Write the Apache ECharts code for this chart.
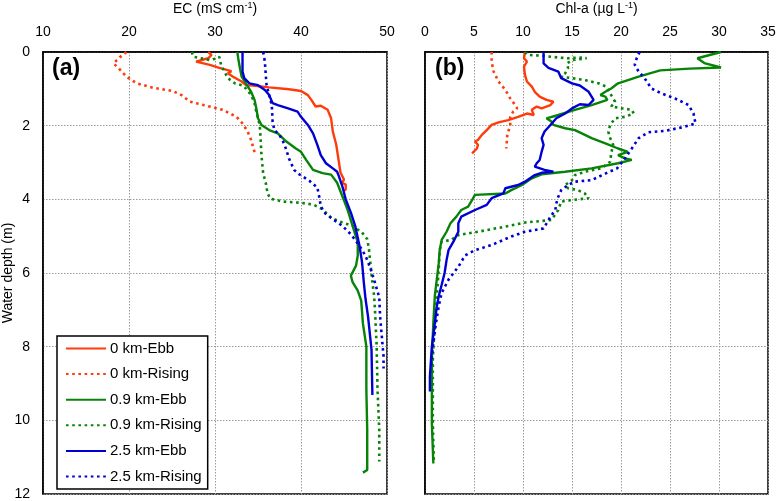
<!DOCTYPE html>
<html>
<head>
<meta charset="utf-8">
<script src="https://cdn.jsdelivr.net/npm/echarts@6/dist/echarts.min.js"></script>
<style>
html,body{margin:0;padding:0;background:#fff;}
#chart{width:776px;height:501px;}
</style>
</head>
<body>
<div id="chart"></div>
<script>
// ---- Data: [value, depth (m)] ----
const seriesNames = ['0 km-Ebb', '0 km-Rising', '0.9 km-Ebb', '0.9 km-Rising', '2.5 km-Ebb', '2.5 km-Rising'];
const ecTicks = [10, 20, 30, 40, 50];
const chlTicks = [0, 5, 10, 15, 20, 25, 30, 35];
const depthTicks = [0, 2, 4, 6, 8, 10, 12];

// Panel (a) EC (mS cm-1)
const ecEbb0 = [[29.2,0],[29.6,0.08],[29.2,0.17],[27.8,0.26],[29.4,0.35],[30.5,0.43],[31.9,0.52],[32.1,0.55],[31.5,0.58],[32.1,0.67],[33.1,0.8],[33.6,0.9],[34.4,0.91],[36.3,0.96],[38.6,1.01],[40.0,1.06],[40.8,1.17],[41.2,1.3],[41.7,1.48],[42.3,1.46],[43.1,1.57],[43.5,1.8],[43.7,2.16],[44.1,2.52],[44.4,2.98],[44.6,3.28],[45.0,3.46],[44.8,3.55],[45.2,3.6],[45.2,3.73],[45.0,3.77]];
const ecRising0 = [[19.7,0],[19.0,0.13],[18.2,0.31],[18.8,0.44],[19.7,0.67],[20.9,0.85],[22.8,0.97],[25.1,1.06],[26.1,1.17],[27.1,1.35],[29.0,1.46],[30.9,1.57],[32.5,1.76],[33.2,1.94],[33.8,2.16],[34.2,2.39],[34.6,2.72]];
const ecEbb09 = [[32.6,0],[32.7,0.17],[32.9,0.44],[33.1,0.67],[33.6,0.85],[34.2,1.08],[34.6,1.3],[34.8,1.53],[35.0,1.8],[35.4,1.98],[36.3,2.12],[37.3,2.21],[38.3,2.43],[39.4,2.62],[40.0,2.71],[40.6,2.93],[41.4,3.2],[42.5,3.29],[43.5,3.33],[44.2,3.55],[44.8,3.91],[45.4,4.27],[46.0,4.72],[46.6,5.17],[46.6,5.53],[46.4,5.8],[45.8,6.07],[46.0,6.25],[46.6,6.48],[47.0,6.75],[47.2,7.37],[47.6,8.0],[47.6,9.18],[47.7,10.26],[47.7,11.35],[47.2,11.42]];
const ecRising09 = [[27.3,0],[27.5,0.13],[28.4,0.17],[29.4,0.22],[30.2,0.17],[30.5,0.13],[30.7,0.35],[31.1,0.53],[31.5,0.71],[32.3,0.85],[33.1,0.9],[33.6,0.99],[34.2,1.17],[34.6,1.39],[34.8,1.62],[35.2,1.98],[35.3,2.34],[35.4,2.8],[35.6,3.29],[35.9,3.55],[36.1,3.82],[36.4,3.98],[37.9,4.06],[39.8,4.09],[41.4,4.14],[42.5,4.27],[43.5,4.5],[44.8,4.63],[46.0,4.72],[47.1,4.9],[47.7,5.08],[47.9,5.35],[48.1,5.8],[48.3,6.25],[48.5,6.61],[48.6,7.0],[48.8,8.0],[48.9,9.18],[49.1,10.26],[49.1,11.12]];
const ecEbb25 = [[33.2,0],[33.2,0.26],[33.2,0.53],[33.4,0.71],[34.0,0.85],[35.0,0.9],[35.8,1.03],[36.3,1.17],[36.7,1.39],[37.3,1.44],[38.5,1.53],[39.6,1.62],[40.0,1.76],[40.8,1.98],[41.4,2.21],[41.9,2.52],[42.3,2.8],[42.9,3.02],[43.7,3.16],[44.2,3.25],[44.4,3.37],[44.8,3.64],[45.2,4.0],[45.8,4.36],[46.3,4.72],[46.8,5.26],[47.1,5.71],[47.3,6.25],[47.5,6.7],[47.8,7.19],[48.2,8.09],[48.3,9.31]];
const ecRising25 = [[35.6,0],[35.8,0.26],[35.9,0.62],[36.0,0.9],[36.3,1.17],[36.6,1.44],[36.7,1.89],[36.9,2.12],[37.5,2.25],[38.1,2.52],[38.6,2.89],[39.2,3.2],[39.8,3.32],[41.0,3.5],[41.9,3.68],[42.1,3.91],[42.3,4.18],[42.7,4.36],[43.7,4.54],[44.8,4.72],[45.8,4.95],[46.8,5.26],[47.5,5.53],[48.1,5.89],[48.7,6.34],[49.1,6.66],[49.2,7.19],[49.6,8.27],[49.6,8.59]];

// Panel (b) Chl-a (ug L-1)
const chlEbb0 = [[10.2,0],[10.1,0.17],[10.4,0.26],[10.1,0.4],[10.2,0.62],[10.4,0.8],[10.9,0.94],[11.2,1.08],[11.7,1.21],[12.4,1.3],[13.1,1.35],[12.8,1.44],[11.9,1.53],[11.4,1.48],[10.9,1.57],[11.1,1.71],[10.4,1.67],[9.5,1.76],[8.5,1.85],[7.5,1.91],[6.8,1.98],[6.3,2.12],[5.8,2.25],[5.4,2.39],[5.1,2.43],[5.4,2.52],[5.3,2.62],[4.8,2.75]];
const chlRising0 = [[6.8,0],[6.8,0.26],[7.0,0.53],[7.5,0.8],[8.2,1.03],[8.7,1.26],[9.2,1.44],[9.4,1.53],[9.0,1.62],[8.7,1.76],[8.7,1.98],[8.4,2.25],[8.3,2.62]];
const chlEbb09 = [[30.2,0],[30.0,0.05],[27.8,0.17],[28.5,0.3],[30.2,0.42],[27.0,0.45],[24.0,0.5],[21.8,0.67],[20.4,0.79],[19.7,0.85],[19.0,0.99],[18.4,1.08],[17.9,1.17],[18.4,1.21],[18.6,1.3],[17.0,1.44],[15.3,1.57],[13.6,1.71],[12.4,1.8],[12.9,1.89],[13.1,1.98],[14.3,2.07],[15.3,2.12],[16.0,2.21],[17.0,2.34],[18.4,2.48],[19.7,2.62],[20.7,2.71],[19.7,2.8],[20.4,2.89],[21.1,2.93],[19.7,3.02],[17.0,3.16],[14.3,3.25],[11.9,3.32],[10.9,3.43],[9.9,3.61],[8.8,3.75],[8.2,3.84],[5.1,3.88],[4.8,4.02],[4.4,4.2],[3.7,4.29],[3.2,4.47],[2.6,4.65],[2.2,4.88],[1.7,5.1],[1.5,5.38],[1.4,5.74],[1.2,6.18],[1.0,6.63],[0.85,7.37],[0.7,8.27],[0.7,9.18],[0.7,10.08],[0.85,11.17]];
const chlRising09 = [[10.2,0],[10.5,0.08],[11.9,0.1],[13.6,0.15],[14.6,0.17],[15.6,0.15],[16.5,0.17],[15.0,0.22],[14.5,0.31],[14.6,0.44],[14.3,0.58],[13.9,0.67],[15.0,0.71],[16.3,0.76],[17.7,0.85],[18.5,0.94],[19.0,1.17],[19.4,1.35],[19.0,1.48],[20.1,1.53],[21.1,1.57],[21.3,1.67],[20.4,1.76],[19.4,1.8],[18.9,1.98],[18.7,2.16],[18.9,2.34],[19.2,2.52],[19.0,2.75],[18.9,2.98],[18.0,3.16],[16.3,3.25],[15.6,3.32],[15.3,3.34],[15.0,3.48],[14.3,3.61],[14.6,3.7],[15.6,3.75],[16.3,3.84],[16.7,3.97],[15.0,4.02],[13.9,4.06],[13.6,4.29],[12.9,4.56],[10.2,4.63],[8.2,4.74],[5.4,4.88],[3.4,4.97],[2.7,5.1],[1.7,5.15],[1.5,5.38],[1.4,5.92],[1.2,6.63],[1.0,7.4],[0.8,8.3],[0.8,9.2],[0.8,10.1],[0.9,11.1]];
const chlEbb25 = [[12.1,0],[12.1,0.31],[12.6,0.43],[13.6,0.53],[13.9,0.71],[15.0,0.85],[15.8,0.91],[16.7,1.08],[17.0,1.21],[17.2,1.3],[16.7,1.44],[15.8,1.42],[15.0,1.53],[14.3,1.67],[13.4,1.8],[12.8,1.98],[12.2,2.16],[11.9,2.34],[12.1,2.52],[11.9,2.71],[11.7,2.93],[11.4,3.02],[11.2,3.11],[12.2,3.2],[13.1,3.25],[11.9,3.28],[11.2,3.34],[10.2,3.52],[9.5,3.61],[8.2,3.7],[8.0,3.84],[6.8,3.97],[6.3,4.15],[5.1,4.29],[3.7,4.47],[3.4,4.65],[3.4,4.88],[2.9,5.15],[2.4,5.38],[2.2,5.65],[2.0,6.0],[1.7,6.32],[1.4,6.63],[1.2,6.92],[1.0,7.37],[0.7,8.0],[0.5,8.81],[0.5,9.22]];
const chlRising25 = [[21.9,0],[21.6,0.17],[21.4,0.35],[21.8,0.53],[22.4,0.71],[23.1,0.99],[24.1,1.12],[25.5,1.26],[26.9,1.44],[27.4,1.67],[27.6,1.94],[26.5,2.03],[24.5,2.14],[22.8,2.18],[21.8,2.34],[21.1,2.62],[20.4,2.89],[19.6,3.16],[18.5,3.29],[17.0,3.48],[15.3,3.52],[14.6,3.61],[13.9,3.75],[13.6,3.93],[13.4,4.11],[13.3,4.29],[12.8,4.47],[12.1,4.79],[10.2,4.88],[8.8,5.01],[6.8,5.24],[5.1,5.38],[4.1,5.52],[3.4,5.83],[2.4,6.18],[1.7,6.54],[1.4,6.9],[1.1,7.4],[0.8,8.0],[0.6,8.6]];

const panelA = [ecEbb0, ecRising0, ecEbb09, ecRising09, ecEbb25, ecRising25];
const panelB = [chlEbb0, chlRising0, chlEbb09, chlRising09, chlEbb25, chlRising25];

// ---- Styles ----
const colors = ['#ff3b0a', '#ff3b0a', '#078407', '#078407', '#0000d4', '#0000d4'];
const dotted = [false, true, false, true, false, true];
const FONT = '"Liberation Sans", Arial, Helvetica, sans-serif';

function mkSeries(data, i, axisIdx) {
  return {
    name: seriesNames[i],
    type: 'line',
    xAxisIndex: axisIdx,
    yAxisIndex: axisIdx,
    data: data,
    symbol: 'none',
    smooth: false,
    z: 3,
    lineStyle: {
      color: colors[i],
      width: dotted[i] ? 2.6 : 2.4,
      type: dotted[i] ? [2.6, 3.6] : 'solid',
      cap: 'butt'
    },
    itemStyle: { color: colors[i] },
    emphasis: { disabled: true }
  };
}

const series = [];
panelA.forEach((d, i) => series.push(mkSeries(d, i, 0)));
panelB.forEach((d, i) => series.push(mkSeries(d, i, 1)));

const gridLine = { show: true, lineStyle: { color: '#9a9a9a', type: [1.5, 1.5], width: 1 } };

function xAx(gridIdx, min, max, interval, nameParts) {
  return {
    type: 'value', gridIndex: gridIdx, position: 'top', min: min, max: max, interval: interval,
    name: '{a|' + nameParts[0] + '}{s|' + nameParts[1] + '}{a|' + nameParts[2] + '}',
    nameLocation: 'middle', nameGap: 35,
    nameTextStyle: {
      color: '#000',
      rich: {
        a: { fontFamily: FONT, fontSize: 14, color: '#000', lineHeight: 16 },
        s: { fontFamily: FONT, fontSize: 9, color: '#000', verticalAlign: 'top', lineHeight: 16 }
      }
    },
    axisLine: { show: true, lineStyle: { color: '#000', width: 1.5 } },
    axisTick: { show: false },
    axisLabel: { color: '#000', fontFamily: FONT, fontSize: 14, margin: 13 },
    splitLine: gridLine
  };
}

function yAx(gridIdx, showLabels) {
  return {
    type: 'value', gridIndex: gridIdx, inverse: true, min: 0, max: 12, interval: 2,
    name: showLabels ? 'Water depth (m)' : '',
    nameLocation: 'middle', nameGap: 28, nameRotate: 90, nameMoveOverlap: false,
    nameTextStyle: { color: '#000', fontFamily: FONT, fontSize: 14 },
    axisLine: { show: true, lineStyle: { color: '#000', width: 1.5 } },
    axisTick: { show: false },
    axisLabel: { show: showLabels, color: '#000', fontFamily: FONT, fontSize: 14, margin: 13 },
    splitLine: gridLine
  };
}

const option = {
  animation: false,
  backgroundColor: '#fff',
  grid: [
    { left: 43, top: 52, width: 344, height: 442, containLabel: false, outerBoundsMode: 'none', show: true, borderColor: '#000', borderWidth: 1.5, backgroundColor: 'transparent' },
    { left: 425, top: 52, width: 343, height: 442, containLabel: false, outerBoundsMode: 'none', show: true, borderColor: '#000', borderWidth: 1.5, backgroundColor: 'transparent' }
  ],
  xAxis: [
    xAx(0, ecTicks[0], ecTicks[ecTicks.length - 1], 10, ['EC (mS cm', '-1', ')']),
    xAx(1, chlTicks[0], chlTicks[chlTicks.length - 1], 5, ['Chl-a (\u00b5g L', '-1', ')'])
  ],
  yAxis: [ yAx(0, true), yAx(1, false) ],
  title: [
    { text: '(a)', left: 47, top: 52, textStyle: { fontFamily: FONT, fontSize: 23, fontWeight: 'bold', color: '#000' } },
    { text: '(b)', left: 430, top: 52, textStyle: { fontFamily: FONT, fontSize: 23, fontWeight: 'bold', color: '#000' } }
  ],
  legend: {
    data: seriesNames,
    orient: 'vertical',
    left: 57, top: 336,
    padding: [5, 6, 5, 8],
    itemGap: 10.6,
    itemWidth: 40, itemHeight: 14,
    backgroundColor: '#fff',
    borderColor: '#000', borderWidth: 1.5,
    itemStyle: { opacity: 0 },
    textStyle: { fontFamily: FONT, fontSize: 15, color: '#000', padding: [0, 0, 0, -1] },
    selectedMode: false,
    z: 10
  },
  series: series
};

const chart = echarts.init(document.getElementById('chart'), null, { renderer: 'canvas' });
chart.setOption(option);
</script>
</body>
</html>
